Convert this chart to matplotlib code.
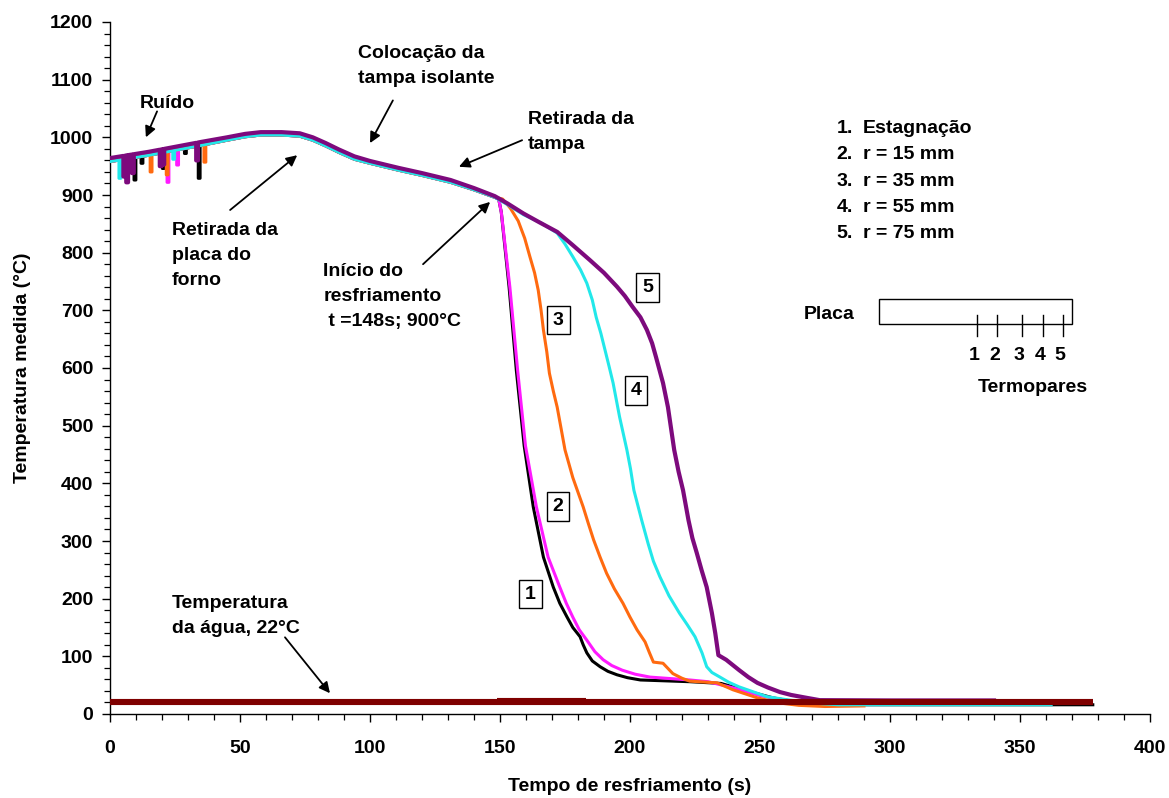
import numpy as np
import matplotlib
matplotlib.use("Agg")
import matplotlib.pyplot as plt
from matplotlib.ticker import MultipleLocator

plt.rcParams['font.family'] = ['Liberation Sans', 'DejaVu Sans']
plt.rcParams['font.weight'] = 'bold'

# ---- heating / transport stage (shared by all thermocouples) ----
t_pre = [0, 15, 35, 45, 52, 58, 66, 73, 78, 83, 88, 94, 100, 111, 120, 131, 140, 148]
T_pre_top = [964, 975, 992, 1000, 1006, 1009, 1009, 1007, 1000, 990, 979, 967, 959, 947, 938, 926,
             912, 898]
T_pre_low = [958, 969, 986, 995, 1001, 1004, 1004, 1002, 995, 985, 974, 962, 955, 943, 934, 922,
             909, 896]

# ---- cooling stage, one array pair per thermocouple ----
t_tc1 = [149.5, 150.5, 153.5, 156.3, 159.3, 162.8, 166.7, 170.5, 173, 175.8, 178, 180.8, 182,
         183.4, 185.5, 188.5, 191.5, 195, 199, 204, 223, 235, 245, 255, 265, 280, 378]
T_tc1 = [893, 870, 740, 595, 465, 359, 272, 220, 192, 168, 150, 134, 120, 106, 92, 82, 74, 68,
         63, 59, 56, 53, 40, 28, 20, 16, 16]

t_tc2 = [149.5, 150.5, 153.8, 156.8, 159.8, 164, 168.5, 173, 175.5, 178, 180.5, 183.4, 186.5,
         189.7, 193, 197, 202, 207.7, 223, 230, 240, 250, 260, 270]
T_tc2 = [893, 870, 740, 595, 465, 359, 272, 220, 192, 168, 146, 128, 108, 94, 84, 76, 69, 64, 59,
         56, 45, 32, 23, 18]

t_tc3 = [151, 154, 157, 159.5, 161.5, 163.3, 164.7, 165.8, 166.7, 168, 169, 170.5, 172, 173.5, 175,
         178, 182, 184, 186, 188.5, 191, 194, 197.3, 200, 202.7, 205.8, 207.5, 209, 212.7, 216.5,
         220, 223, 233.5, 239.6, 249, 257.7, 265, 275, 290]
T_tc3 = [893, 877, 855, 825, 793, 765, 735, 700, 666, 628, 591, 560, 532, 495, 458, 410, 359, 330,
         302, 272, 244, 217, 192, 168, 146, 125, 106, 90, 88, 70, 62, 57, 54, 42, 28, 19, 15, 13, 14]

t_tc4 = [153, 159, 166, 172, 175, 178, 181, 183.4, 185.5, 187, 188.8, 190.4, 192, 193.5, 196, 198.8,
         200.2, 201.5, 204.5, 207, 209, 211.5, 215, 219, 222, 225, 227.7, 229.5, 231.5, 234.6, 238,
         242, 252.7, 261.5, 270, 280, 362]
T_tc4 = [883, 866, 851, 834, 815, 793, 770, 747, 718, 688, 660, 631, 602, 574, 515, 458, 425, 388,
         336, 295, 265, 238, 205, 175, 155, 134, 106, 82, 72, 64, 55, 47, 30, 24, 19, 16, 16]

t_tc5 = [153, 159, 165, 172, 178, 184.6, 190, 195, 198, 201, 204, 206.5, 208.5, 210, 212.7, 214.6,
         217, 218.7, 220.4, 222.5, 224, 225.7, 227.5, 229.5, 231.5, 232.8, 234, 237, 239.5, 242,
         245.5, 249, 253, 257.7, 262, 268, 273, 300, 340]
T_tc5 = [885, 868, 853, 836, 813, 787, 765, 741, 725, 706, 688, 666, 643, 619, 574, 532, 458, 420,
         388, 336, 305, 279, 250, 220, 175, 140, 102, 94, 85, 76, 64, 54, 46, 38, 33, 28, 24, 23.5,
         23.5]

# ---- noise spikes during the first seconds (time, minimum reading) ----
spk_t1 = [9.6, 12.3, 20.5, 29, 34.3]
spk_T1 = [926, 955, 946, 972, 929]
spk_t2 = [22.3, 26]
spk_T2 = [922, 952]
spk_t3 = [15.8, 22, 36.5]
spk_T3 = [940, 935, 957]
spk_t4 = [3.8, 24.5]
spk_T4 = [929, 962]
spk_t5 = [5.5, 6.6, 8.8, 19.5, 20.5, 33.5]
spk_T5 = [932, 922, 938, 950, 953, 960]

# ---- water temperature ----
t_water = [0, 378]
T_water = [21, 21]
t_water_b = [149, 183]
T_water_b = [23, 23]

series = [
    ("1", t_tc1, T_tc1, T_pre_low, spk_t1, spk_T1, "#000000", 2.2),
    ("2", t_tc2, T_tc2, T_pre_low, spk_t2, spk_T2, "#ff1aff", 2.2),
    ("3", t_tc3, T_tc3, T_pre_low, spk_t3, spk_T3, "#ff6a10", 2.2),
    ("4", t_tc4, T_tc4, T_pre_low, spk_t4, spk_T4, "#22e8ea", 2.2),
    ("5", t_tc5, T_tc5, T_pre_top, spk_t5, spk_T5, "#7d0a7d", 3.0),
]


def build_trace(t_cool, T_cool, T_start, sp_t, sp_T, w=0.7):
    t = np.array(list(t_pre) + list(t_cool), dtype=float)
    T = np.array(list(T_start) + list(T_cool), dtype=float)
    pts = [(a, b, 0) for a, b in zip(t, T)]
    for s, d in zip(sp_t, sp_T):
        b0 = np.interp(s - w / 2, t, T)
        b1 = np.interp(s + w / 2, t, T)
        pts += [(s - w / 2, b0, 1), (s - w / 2 + 1e-3, d, 2),
                (s + w / 2 - 1e-3, d, 3), (s + w / 2, b1, 4)]
    pts.sort(key=lambda p: (p[0], p[2]))
    return [p[0] for p in pts], [p[1] for p in pts]


fig = plt.figure(figsize=(11.69, 7.98), dpi=100)
ax = fig.add_axes([110 / 1169, 1 - 714 / 798, 1040 / 1169, 692 / 798])

for name, tc, Tc, Tst, st, sT, col, lw in series:
    xs, ys = build_trace(tc, Tc, Tst, st, sT)
    ax.plot(xs, ys, color=col, lw=lw, solid_joinstyle='round', zorder=3)

ax.plot(t_water, T_water, color="#7f0000", lw=4.4, solid_capstyle='butt', zorder=4)
ax.plot(t_water_b, T_water_b, color="#7f0000", lw=4.4, solid_capstyle='butt', zorder=4)

ax.set_xlim(0, 400)
ax.set_ylim(0, 1200)
ax.xaxis.set_major_locator(MultipleLocator(50))
ax.xaxis.set_minor_locator(MultipleLocator(10))
ax.yaxis.set_major_locator(MultipleLocator(100))
ax.yaxis.set_minor_locator(MultipleLocator(20))
for s in ("top", "right"):
    ax.spines[s].set_visible(False)
ax.spines["left"].set_linewidth(1.0)
ax.spines["bottom"].set_linewidth(1.0)
ax.tick_params(axis='both', which='major', direction='out', length=6, width=1.0, labelsize=14)
ax.tick_params(axis='both', which='minor', direction='out', length=4, width=0.9)
ax.tick_params(axis='x', which='major', pad=13)
ax.tick_params(axis='y', which='major', pad=6)
for lab in ax.get_xticklabels() + ax.get_yticklabels():
    lab.set_fontweight('bold')

ax.set_xlabel("Tempo de resfriamento (s)", fontsize=14, fontweight='bold', labelpad=15)
ax.set_ylabel("Temperatura medida (°C)", fontsize=14, fontweight='bold', labelpad=14)

fs = 14
arrow = dict(arrowstyle='-|>', color='black', lw=1.3, mutation_scale=16, shrinkA=0, shrinkB=0)


def note(txt, x, y, **kw):
    ax.text(x, y, txt, fontsize=fs, fontweight='bold', ha='left', va='top',
            linespacing=1.6, **kw)


def arr(x0, y0, x1, y1):
    ax.annotate("", xy=(x1, y1), xytext=(x0, y0), arrowprops=arrow)


note("Ruído", 11.5, 1074)
arr(18.1, 1045, 13.8, 1000)
note("Colocação da\ntampa isolante", 95.4, 1160)
arr(108.8, 1064, 100, 990)
note("Retirada da\ntampa", 160.8, 1046)
arr(158.5, 995, 134.2, 949)
note("Retirada da\nplaca do\nforno", 23.8, 853)
arr(46.2, 874, 72, 969)
note("Início do\nresfriamento\n t =148s; 900°C", 82, 782)
arr(120.4, 780, 146.2, 888)
note("Temperatura\nda água, 22°C", 23.8, 206)
arr(67.3, 133, 84.6, 36)

# numbered curve tags
tags = [("1", 161.7, 208), ("2", 172.4, 360), ("3", 172.4, 683), ("4", 202.3, 561), ("5", 206.7, 740)]
for lab, x, y in tags:
    ax.text(x, y, lab, fontsize=fs, fontweight='bold', ha='center', va='center',
            bbox=dict(boxstyle='square,pad=0.3', fc='white', ec='black', lw=1.0), zorder=6)

# legend of thermocouple positions
leg_num = ["1.", "2.", "3.", "4.", "5."]
leg_txt = ["Estagnação", "r = 15 mm", "r = 35 mm", "r = 55 mm", "r = 75 mm"]
leg_y = [1016, 971, 924, 879, 834]
for n, s, y in zip(leg_num, leg_txt, leg_y):
    ax.text(279.5, y, n, fontsize=fs, fontweight='bold', ha='left', va='center')
    ax.text(289.5, y, s, fontsize=fs, fontweight='bold', ha='left', va='center')

# plate sketch with thermocouple positions
ax.text(267, 692, "Placa", fontsize=fs, fontweight='bold', ha='left', va='center')
ax.add_patch(plt.Rectangle((295.8, 676.3), 74.3, 43.3, fill=False, ec='black', lw=1.0, zorder=5))
tc_x = [333.6, 341.3, 350.7, 359.0, 366.7]
for i, x in enumerate(tc_x):
    ax.plot([x, x], [655, 692], color='black', lw=1.0, zorder=5)
    ax.text(x - 1.2, 622, str(i + 1), fontsize=fs, fontweight='bold', ha='center', va='center')
ax.text(333.8, 567, "Termopares", fontsize=fs, fontweight='bold', ha='left', va='center')

fig.savefig("out.png", dpi=100)
